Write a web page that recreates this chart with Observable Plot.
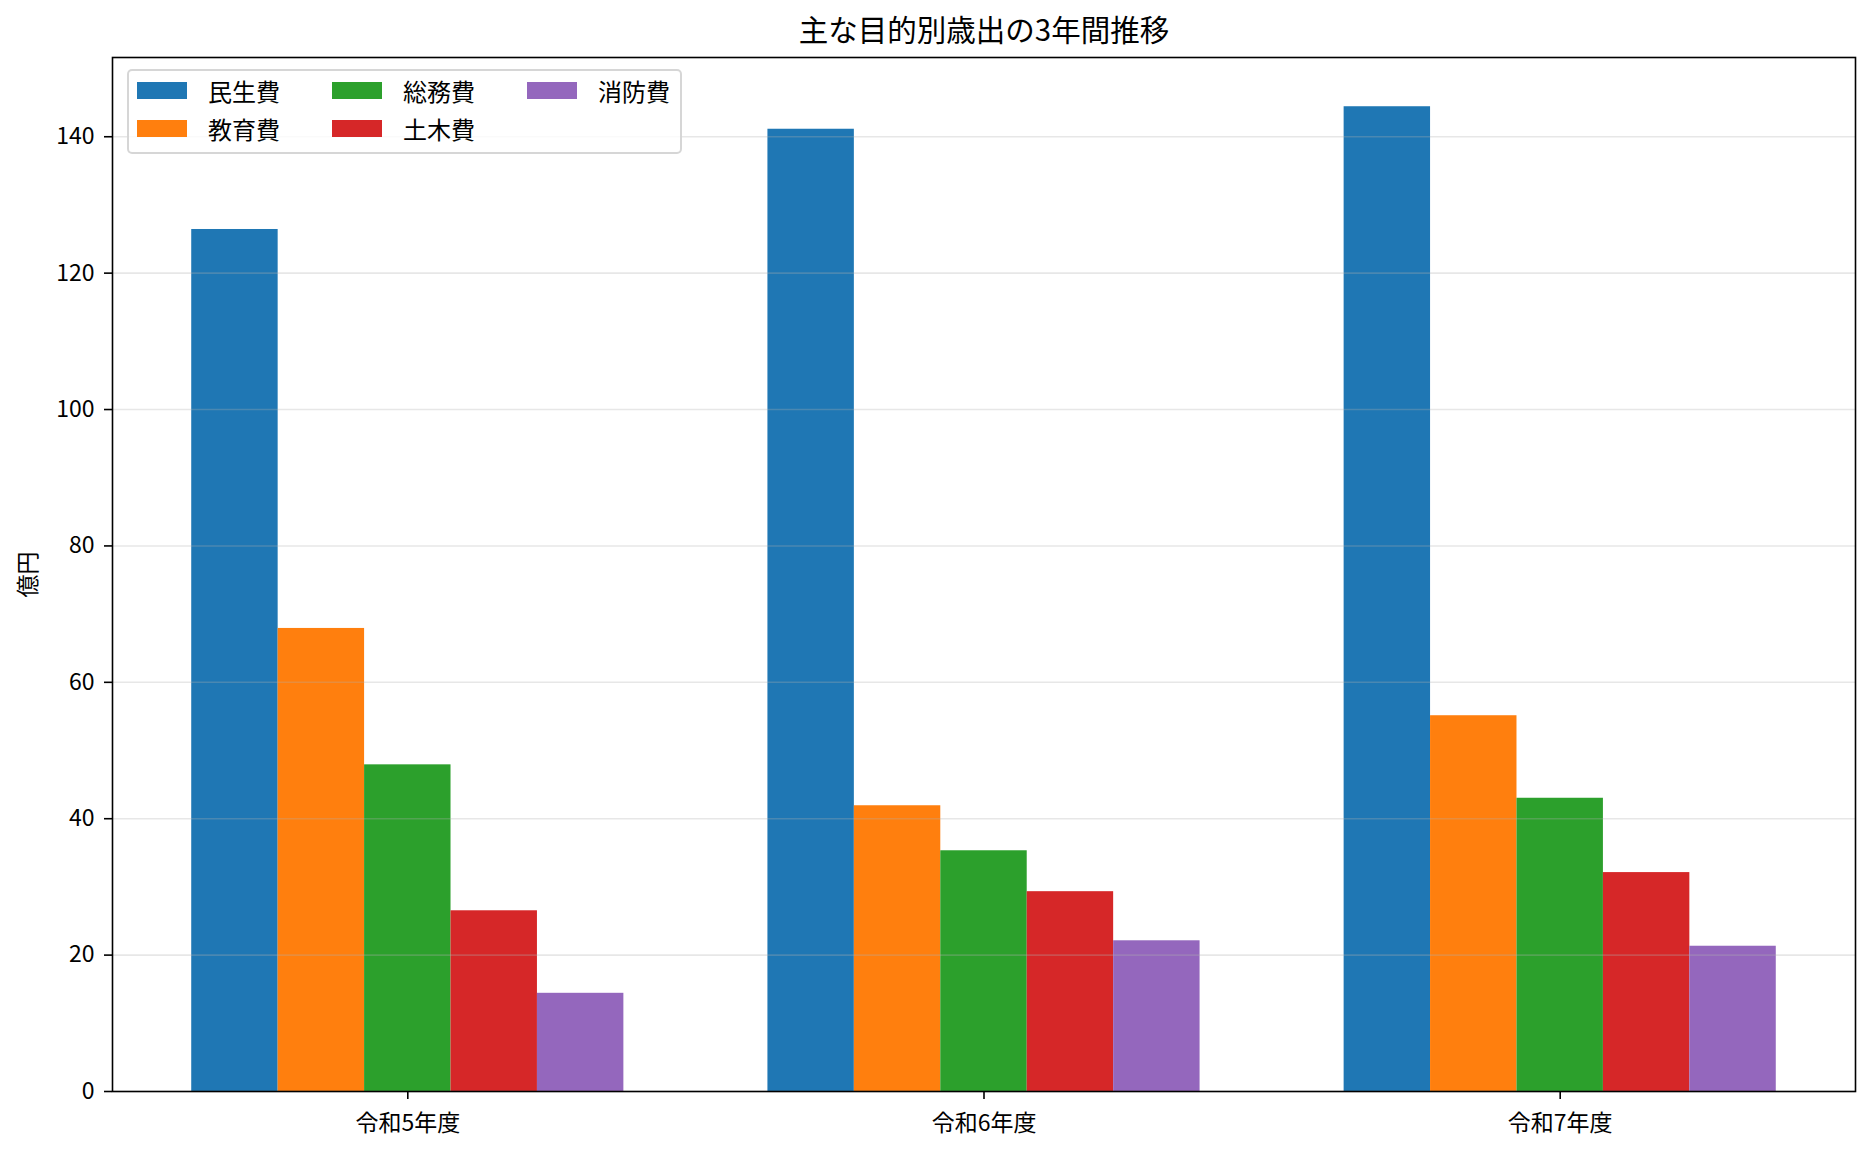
<!DOCTYPE html>
<html>
<head>
<meta charset="utf-8">
<script src="https://cdn.jsdelivr.net/npm/d3@7"></script>
<script src="https://cdn.jsdelivr.net/npm/@observablehq/plot@0.6"></script>
<style>
  html, body { margin: 0; padding: 0; background: #fff; }
  #wrap { position: relative; width: 1872px; height: 1153px; font-family: "Noto Sans CJK JP", "Noto Sans", sans-serif; }
  #legend {
    position: absolute; left: 127px; top: 69px; width: 555px; height: 85px;
    border: 2px solid rgba(204,204,204,0.8); border-radius: 5px; background: rgba(255,255,255,0.8);
    display: grid; grid-auto-flow: column; grid-template-rows: repeat(2, 38.5px);
    grid-template-columns: repeat(3, 195px); padding: 0 0 0 8px; box-sizing: border-box;
  }
  .item { display: flex; align-items: center; font-size: 24px; color: #000; }
  .sw { width: 50px; height: 17px; margin-right: 21px; flex: none; }
</style>
</head>
<body>
<div id="wrap"><div id="legend"></div></div>
<script>
const title = "主な目的別歳出の3年間推移";
const yLabel = "億円";
const years = ["令和5年度", "令和6年度", "令和7年度"];
const categories = ["民生費", "教育費", "総務費", "土木費", "消防費"];
const colors = ["#1f77b4", "#ff7f0e", "#2ca02c", "#d62728", "#9467bd"];
const minsei = [126.4, 141.1, 144.4];   // 民生費
const kyoiku = [67.9, 41.9, 55.1];      // 教育費
const somu = [47.9, 35.3, 43.0];        // 総務費
const doboku = [26.5, 29.3, 32.1];      // 土木費
const shobo = [14.4, 22.1, 21.3];       // 消防費
const yTicks = [0, 20, 40, 60, 80, 100, 120, 140];

const seriesValues = [minsei, kyoiku, somu, doboku, shobo];
const barWidth = 0.15;
const rows = [];
years.forEach((yr, i) => {
  categories.forEach((cat, j) => {
    rows.push({year: yr, yi: i, cat, ci: j, value: seriesValues[j][i]});
  });
});
const ymax = d3.max(rows, d => d.value) * 1.05;
const xlo = -2.5 * barWidth, xhi = years.length - 1 + 2.5 * barWidth;
const xpad = (xhi - xlo) * 0.05;

const chart = Plot.plot({
  width: 1872,
  height: 1153,
  marginLeft: 112,
  marginRight: 17,
  marginTop: 57,
  marginBottom: 62,
  style: {fontFamily: '"Noto Sans CJK JP", "Noto Sans", sans-serif', fontSize: "23px", background: "transparent", color: "#000"},
  x: {type: "linear", domain: [xlo - xpad, xhi + xpad]},
  y: {domain: [0, ymax]},
  color: {domain: categories, range: colors},
  marks: [
    Plot.rectY(rows, {
      x1: d => d.yi + (d.ci - 2.5) * barWidth,
      x2: d => d.yi + (d.ci - 1.5) * barWidth,
      y1: 0,
      y2: "value",
      fill: "cat"
    }),
    Plot.gridY(yTicks, {stroke: "#b0b0b0", strokeOpacity: 0.3, strokeWidth: 1.6}),
    Plot.axisY(yTicks, {tickSize: 8, tickPadding: 10, strokeWidth: 1.6, label: null, fontSize: 23}),
    Plot.axisX(d3.range(years.length), {tickSize: 8, tickPadding: 15, strokeWidth: 1.6, label: null, fontSize: 23, tickFormat: i => years[i]}),
    Plot.text([yLabel], {frameAnchor: "left", dx: -84, rotate: -90, fontSize: 23, textAnchor: "middle", lineAnchor: "middle"}),
    Plot.text([title], {frameAnchor: "top", dy: -26, fontSize: 29.5, textAnchor: "middle", lineAnchor: "middle"}),
    Plot.frame({stroke: "#000", strokeWidth: 1.6})
  ]
});
document.getElementById("wrap").prepend(chart);

const legend = document.getElementById("legend");
categories.forEach((c, j) => {
  const it = document.createElement("div");
  it.className = "item";
  const sw = document.createElement("span");
  sw.className = "sw";
  sw.style.background = colors[j];
  const tx = document.createElement("span");
  tx.textContent = c;
  it.append(sw, tx);
  legend.append(it);
});
</script>
</body>
</html>
